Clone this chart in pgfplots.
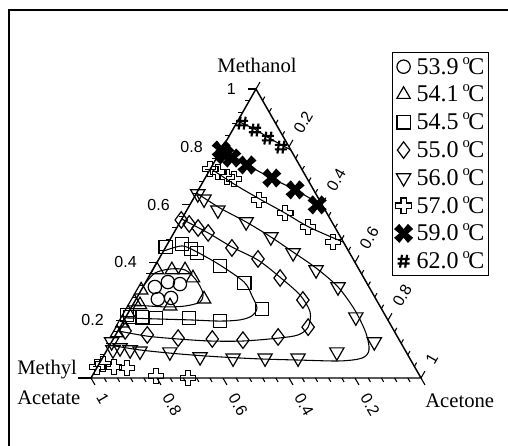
\documentclass[border=0pt]{standalone}
\usepackage{fontspec}
\setmainfont{Liberation Serif}
\setsansfont{Liberation Sans}
\usepackage{graphicx}
\usepackage{pgfplots}
\usepackage{pgfplotstable}
\pgfplotsset{compat=1.18}

\newcommand\labfont{\fontsize{15.5}{18}\selectfont}
\newcommand\legfont{\fontsize{18}{20}\selectfont}
\newcommand\tickfont{\sffamily\fontsize{12}{14}\selectfont}
\newcommand\degC{\raisebox{0.42em}{\fontsize{11}{11}\selectfont o}\kern-1.2pt C}
\newcommand\leg[1]{{\legfont #1\,\degC}}

\pgfdeclareplotmark{pluso}{%
  \pgfpathmoveto{\pgfqpoint{-0.33\pgfplotmarksize}{\pgfplotmarksize}}%
  \pgfpathlineto{\pgfqpoint{0.33\pgfplotmarksize}{\pgfplotmarksize}}%
  \pgfpathlineto{\pgfqpoint{0.33\pgfplotmarksize}{0.33\pgfplotmarksize}}%
  \pgfpathlineto{\pgfqpoint{\pgfplotmarksize}{0.33\pgfplotmarksize}}%
  \pgfpathlineto{\pgfqpoint{\pgfplotmarksize}{-0.33\pgfplotmarksize}}%
  \pgfpathlineto{\pgfqpoint{0.33\pgfplotmarksize}{-0.33\pgfplotmarksize}}%
  \pgfpathlineto{\pgfqpoint{0.33\pgfplotmarksize}{-\pgfplotmarksize}}%
  \pgfpathlineto{\pgfqpoint{-0.33\pgfplotmarksize}{-\pgfplotmarksize}}%
  \pgfpathlineto{\pgfqpoint{-0.33\pgfplotmarksize}{-0.33\pgfplotmarksize}}%
  \pgfpathlineto{\pgfqpoint{-\pgfplotmarksize}{-0.33\pgfplotmarksize}}%
  \pgfpathlineto{\pgfqpoint{-\pgfplotmarksize}{0.33\pgfplotmarksize}}%
  \pgfpathlineto{\pgfqpoint{-0.33\pgfplotmarksize}{0.33\pgfplotmarksize}}%
  \pgfpathclose\pgfusepathqstroke}
\pgfdeclareplotmark{xfill}{%
  \pgftransformrotate{45}%
  \pgfpathmoveto{\pgfqpoint{-0.38\pgfplotmarksize}{1.15\pgfplotmarksize}}%
  \pgfpathlineto{\pgfqpoint{0.38\pgfplotmarksize}{1.15\pgfplotmarksize}}%
  \pgfpathlineto{\pgfqpoint{0.3\pgfplotmarksize}{0.3\pgfplotmarksize}}%
  \pgfpathlineto{\pgfqpoint{1.15\pgfplotmarksize}{0.38\pgfplotmarksize}}%
  \pgfpathlineto{\pgfqpoint{1.15\pgfplotmarksize}{-0.38\pgfplotmarksize}}%
  \pgfpathlineto{\pgfqpoint{0.3\pgfplotmarksize}{-0.3\pgfplotmarksize}}%
  \pgfpathlineto{\pgfqpoint{0.38\pgfplotmarksize}{-1.15\pgfplotmarksize}}%
  \pgfpathlineto{\pgfqpoint{-0.38\pgfplotmarksize}{-1.15\pgfplotmarksize}}%
  \pgfpathlineto{\pgfqpoint{-0.3\pgfplotmarksize}{-0.3\pgfplotmarksize}}%
  \pgfpathlineto{\pgfqpoint{-1.15\pgfplotmarksize}{-0.38\pgfplotmarksize}}%
  \pgfpathlineto{\pgfqpoint{-1.15\pgfplotmarksize}{0.38\pgfplotmarksize}}%
  \pgfpathlineto{\pgfqpoint{-0.3\pgfplotmarksize}{0.3\pgfplotmarksize}}%
  \pgfpathclose\pgfusepathqfillstroke}
\pgfdeclareplotmark{hash}{%
  \pgfpathmoveto{\pgfqpoint{-0.55\pgfplotmarksize}{-\pgfplotmarksize}}%
  \pgfpathlineto{\pgfqpoint{-0.25\pgfplotmarksize}{\pgfplotmarksize}}%
  \pgfpathmoveto{\pgfqpoint{0.25\pgfplotmarksize}{-\pgfplotmarksize}}%
  \pgfpathlineto{\pgfqpoint{0.55\pgfplotmarksize}{\pgfplotmarksize}}%
  \pgfpathmoveto{\pgfqpoint{-0.95\pgfplotmarksize}{0.35\pgfplotmarksize}}%
  \pgfpathlineto{\pgfqpoint{0.95\pgfplotmarksize}{0.35\pgfplotmarksize}}%
  \pgfpathmoveto{\pgfqpoint{-0.95\pgfplotmarksize}{-0.35\pgfplotmarksize}}%
  \pgfpathlineto{\pgfqpoint{0.95\pgfplotmarksize}{-0.35\pgfplotmarksize}}%
  \pgfusepathqstroke}

% --- data: A = acetone mole fraction, M = methanol mole fraction ---
\pgfplotstableread{
A M
0.036 0.315
0.067 0.332
0.107 0.325
0.066 0.273
0.104 0.277
}\pA
\pgfplotstableread{
A M
0.013 0.374
0.058 0.374
0.098 0.374
0.136 0.346
0.206 0.273
0.115 0.249
0.022 0.253
0.000 0.304
0.000 0.263
0.000 0.225
0.000 0.190
0.001 0.156
}\pB
\pgfplotstableread{
A M
0.000 0.322
0.012 0.363
0.051 0.377
0.098 0.374
0.149 0.339
0.192 0.294
0.199 0.263
0.160 0.249
0.101 0.246
0.000 0.253
}\cB
\pgfplotstableread{
A M
0.000 0.453
0.044 0.464
0.080 0.446
0.105 0.433
0.197 0.388
0.300 0.329
0.399 0.239
0.292 0.197
0.193 0.208
0.093 0.208
0.050 0.210
0.012 0.211
0.000 0.218
}\pC
\pgfplotstableread{
A M
0.000 0.439
0.048 0.457
0.103 0.436
0.195 0.391
0.298 0.332
0.346 0.284
0.382 0.242
0.380 0.215
0.351 0.201
0.292 0.197
0.199 0.201
0.107 0.204
0.000 0.208
}\cC
\pgfplotstableread{
A M
0.000 0.547
0.031 0.533
0.065 0.519
0.104 0.502
0.202 0.450
0.300 0.412
0.400 0.346
0.507 0.270
0.570 0.176
0.496 0.142
0.395 0.131
0.300 0.135
0.195 0.138
0.096 0.149
0.022 0.163
}\pD
\pgfplotstableread{
A M
0.000 0.550
0.104 0.502
0.201 0.453
0.302 0.408
0.398 0.349
0.490 0.287
0.550 0.228
0.570 0.176
0.553 0.149
0.498 0.138
0.397 0.128
0.297 0.128
0.196 0.135
0.097 0.145
0.000 0.163
}\cD
\pgfplotstableread{
A M
0.005 0.637
0.033 0.619
0.094 0.581
0.200 0.540
0.301 0.488
0.396 0.433
0.495 0.374
0.591 0.315
0.697 0.211
0.796 0.125
0.700 0.090
0.593 0.069
0.493 0.069
0.396 0.069
0.294 0.073
0.194 0.090
0.102 0.093
0.070 0.097
0.036 0.104
0.018 0.097
0.000 0.125
}\pE
\pgfplotstableread{
A M
0.000 0.640
0.097 0.588
0.200 0.540
0.301 0.488
0.394 0.436
0.491 0.381
0.591 0.315
0.682 0.235
0.755 0.156
0.794 0.097
0.787 0.069
0.725 0.059
0.602 0.062
0.479 0.066
0.354 0.073
0.228 0.083
0.100 0.097
0.000 0.114
}\cE
\pgfplotstableread{
A M
0.000 0.723
0.029 0.713
0.064 0.696
0.089 0.689
0.201 0.616
0.303 0.571
0.397 0.522
0.498 0.471
}\pF
\pgfplotstableread{
A M
0.000 0.038
0.012 0.048
0.051 0.038
0.092 0.035
0.193 0.007
0.294 0.000
}\pFb
\pgfplotstableread{
A M
0.000 0.725
0.100 0.670
0.200 0.620
0.300 0.572
0.400 0.522
0.530 0.470
}\cF
\pgfplotstableread{
A M
0.000 0.789
0.020 0.772
0.046 0.761
0.104 0.737
0.202 0.692
0.293 0.651
0.386 0.599
}\pG
\pgfplotstableread{
A M
0.000 0.795
0.100 0.740
0.200 0.692
0.300 0.648
0.405 0.595
}\cG
\pgfplotstableread{
A M
0.017 0.882
0.068 0.858
0.121 0.830
0.176 0.799
}\pH
\pgfplotstableread{
A M
0.000 0.889
0.068 0.860
0.121 0.832
0.211 0.789
}\cH

\begin{document}
\begin{tikzpicture}
\useasboundingbox (0pt,0pt) rectangle (381pt,-334.5pt);
\begin{axis}[
  at={(0pt,0pt)}, anchor=north west,
  scale only axis, width=381pt, height=334.5pt,
  xmin=-0.275758, xmax=1.263636, ymin=-0.235294, ymax=1.307958,
  hide axis, clip=false,
  table/x expr={\thisrow{A}+0.5*\thisrow{M}}, table/y=M,
  every axis plot/.append style={black},
  legend image code/.code={\path (0cm,-0.2cm) (0.5cm,0.2cm);
     \draw[#1] plot[only marks] coordinates {(0.24cm,0cm)};},
  legend style={at={(0.7717,0.8834)}, anchor=north west, draw=black,
     line width=0.8pt, font=\legfont, row sep=2.6pt,
     inner xsep=1pt, inner ysep=1.5pt,
     cells={anchor=west},
     /tikz/every even column/.append style={column sep=0pt}},
  curve/.style={black, line width=0.8pt, smooth, tension=0.5, no marks, forget plot},
  mk/.style={only marks, line width=0.9pt, mark options={solid, line width=0.9pt}},
]
\addplot[curve] table {\cB};
\addplot[curve] table {\cC};
\addplot[curve] table {\cD};
\addplot[curve] table {\cE};
\addplot[curve] table {\cF};
\addplot[curve] table {\cG};
\addplot[curve] table {\cH};

\addplot[mk, mark=o, mark size=5pt] table {\pA};
\addlegendentry{\leg{53.9}}
\addplot[mk, mark=triangle, mark size=5.8pt] table {\pB};
\addlegendentry{\leg{54.1}}
\addplot[mk, mark=square, mark size=5pt] table {\pC};
\addlegendentry{\leg{54.5}}
\addplot[mk, mark=diamond, mark size=6.2pt] table {\pD};
\addlegendentry{\leg{55.0}}
\addplot[mk, mark=triangle, mark size=6.2pt, mark options={rotate=180}] table {\pE};
\addlegendentry{\leg{56.0}}
\addplot[mk, mark=pluso, mark size=5.8pt] table {\pF};
\addlegendentry{\leg{57.0}}
\addplot[mk, mark=pluso, mark size=5.8pt, forget plot] table {\pFb};
\addplot[mk, mark=xfill, mark size=6pt] table {\pG};
\addlegendentry{\leg{59.0}}
\addplot[only marks, mark=hash, mark size=4.8pt, mark options={line width=1.6pt}] table {\pH};
\addlegendentry{\leg{62.0}}
\end{axis}

\begin{scope}[shift={(68.25pt,-283.5pt)}, x=247.5pt, y=216.75pt]
  \draw[line width=1.1pt, line join=miter] (0,0) -- (1,0) -- (0.5,1) -- cycle;
  \draw[line width=1.1pt] (-0.04,0) -- (0,0);
  \foreach \i in {0,...,25}{
    \pgfmathsetmacro\t{\i/25}
    \pgfmathsetmacro\L{ifthenelse(mod(\i,5)==0,8,4.5)}
    \draw[line width=0.8pt] ({\t/2},\t) -- ++({-\L/330},0);
    \draw[line width=0.8pt] ({1-\t},0) -- ++({0.5*\L/332.8},{-\L/332.8});
    \draw[line width=0.8pt] ({(1+\t)/2},{1-\t}) -- ++({0.5*\L/332.8},{\L/332.8});
  }
  \foreach \v in {0.2,0.4,0.6,0.8,1}{
    \node[anchor=east, inner sep=0pt, font=\tickfont] at ({\v/2-20/330},\v) {\v};
    \node[anchor=west, rotate=-60, inner sep=0pt, font=\tickfont] at ({1-\v+0.5*19/332.8},{-19/332.8}) {\v};
    \node[anchor=west, rotate=60, inner sep=0pt, font=\tickfont] at ({(1+\v)/2+0.5*17/332.8},{1-\v+17/332.8}) {\v};
  }
\end{scope}

\node[font=\labfont] at (192.75pt,-48.75pt) {Methanol};
\node[anchor=west, inner sep=0pt, font=\labfont] at (12.75pt,-277.5pt) {Methyl};
\node[anchor=west, inner sep=0pt, font=\labfont] at (12.75pt,-298.5pt) {Acetate};
\node[anchor=west, inner sep=0pt, font=\labfont] at (318.75pt,-300.75pt) {Acetone};

\draw[line width=1.5pt] (6.4pt,-340pt) -- (6.4pt,-7.5pt) -- (390pt,-7.5pt);
\end{tikzpicture}
\end{document}
